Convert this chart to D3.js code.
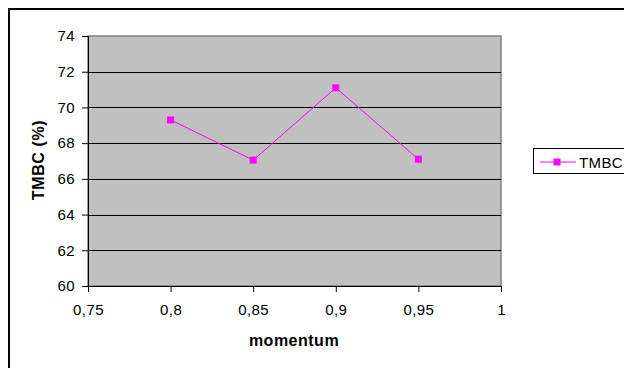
<!DOCTYPE html>
<html>
<head>
<meta charset="utf-8">
<script src="https://cdn.jsdelivr.net/npm/d3@7"></script>
<style>
  html, body { margin: 0; padding: 0; background: #fff; }
  svg { display: block; }
  text { font-family: "Liberation Sans", Arial, sans-serif; }
</style>
</head>
<body>
<svg id="chart" width="624" height="368"></svg>
<script>
const momentum = [0.8, 0.85, 0.9, 0.95];
const tmbc = [69.3, 67.05, 71.1, 67.1];
const xTicks = [0.75, 0.8, 0.85, 0.9, 0.95, 1];
const yTicks = [60, 62, 64, 66, 68, 70, 72, 74];
const seriesName = "TMBC";
const xTitle = "momentum";
const yTitle = "TMBC (%)";

const svg = d3.select("#chart");
const plot = { left: 88, right: 501, top: 36, bottom: 286 };
const color = "#FF00FF";
const FONT = "'Liberation Sans', Arial, sans-serif";

// outer chart border
svg.append("rect")
  .attr("x", 9).attr("y", 9)
  .attr("width", 700).attr("height", 700)
  .attr("fill", "#fff").attr("stroke", "#000").attr("stroke-width", 2);

const x = d3.scaleLinear().domain([0.75, 1]).range([plot.left, plot.right]);
const y = d3.scaleLinear().domain([60, 74]).range([plot.bottom, plot.top]);

// plot background
svg.append("rect")
  .attr("x", plot.left).attr("y", plot.top)
  .attr("width", plot.right - plot.left).attr("height", plot.bottom - plot.top)
  .attr("fill", "#C0C0C0").attr("stroke", "#808080").attr("stroke-width", 1.5);

// gridlines
svg.append("g").selectAll("line")
  .data(yTicks.filter(v => v > 60 && v < 74))
  .join("line")
  .attr("x1", plot.left).attr("x2", plot.right)
  .attr("y1", d => Math.round(y(d)) + 0.5).attr("y2", d => Math.round(y(d)) + 0.5)
  .attr("stroke", "#000").attr("stroke-width", 1);

const fmt = d => String(d).replace(".", ",");

// y axis
const yAxis = svg.append("g")
  .attr("transform", `translate(${plot.left},0)`)
  .call(d3.axisLeft(y).tickValues(yTicks).tickSize(6).tickPadding(7).tickFormat(d => d));
yAxis.select(".domain").attr("stroke", "#000");
yAxis.selectAll(".tick line").attr("stroke", "#000");
yAxis.selectAll("text").attr("font-size", 15).attr("fill", "#000")
  .attr("font-family", FONT).attr("letter-spacing", 0.4);

// x axis
const xAxis = svg.append("g")
  .attr("transform", `translate(0,${plot.bottom})`)
  .call(d3.axisBottom(x).tickValues(xTicks).tickSize(6).tickPadding(12).tickFormat(fmt));
xAxis.select(".domain").attr("stroke", "#000");
xAxis.selectAll(".tick line").attr("stroke", "#000");
xAxis.selectAll("text").attr("font-size", 15).attr("fill", "#000")
  .attr("font-family", FONT).attr("letter-spacing", 0.4);

// axis titles
svg.append("text")
  .attr("x", 294).attr("y", 346)
  .attr("text-anchor", "middle").attr("font-weight", "bold").attr("font-size", 16)
  .attr("letter-spacing", 0.5)
  .text(xTitle);
svg.append("text")
  .attr("transform", `translate(44,160) rotate(-90)`)
  .attr("text-anchor", "middle").attr("font-weight", "bold").attr("font-size", 16)
  .attr("letter-spacing", 0.6)
  .text(yTitle);

// series line
const pts = momentum.map((m, i) => [m, tmbc[i]]);
svg.append("path")
  .datum(pts)
  .attr("d", d3.line().x(d => x(d[0])).y(d => y(d[1])))
  .attr("fill", "none").attr("stroke", color).attr("stroke-width", 1);

svg.append("g").selectAll("rect")
  .data(pts)
  .join("rect")
  .attr("x", d => x(d[0]) - 3.5).attr("y", d => y(d[1]) - 3.5)
  .attr("width", 7).attr("height", 7)
  .attr("fill", color);

// legend
const lg = svg.append("g");
lg.append("rect")
  .attr("x", 533.5).attr("y", 148.5).attr("width", 120).attr("height", 25)
  .attr("fill", "#fff").attr("stroke", "#000").attr("stroke-width", 1);
lg.append("line")
  .attr("x1", 540).attr("x2", 576).attr("y1", 162).attr("y2", 162)
  .attr("stroke", color).attr("stroke-width", 1);
lg.append("rect")
  .attr("x", 557 - 3.5).attr("y", 162 - 3.5).attr("width", 7).attr("height", 7)
  .attr("fill", color);
lg.append("text")
  .attr("x", 579).attr("y", 167.5).attr("font-size", 15).attr("letter-spacing", 0.4)
  .text(seriesName);
</script>
</body>
</html>
